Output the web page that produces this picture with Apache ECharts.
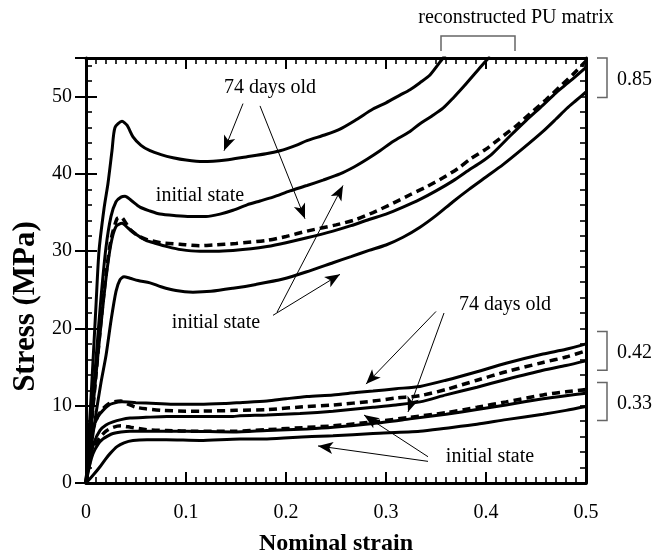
<!DOCTYPE html>
<html>
<head>
<meta charset="utf-8">
<script src="https://cdn.jsdelivr.net/npm/echarts@6/dist/echarts.min.js"></script>
<style>
  html, body { margin: 0; padding: 0; background: #fff; }
  #chart { width: 672px; height: 556px; }
</style>
</head>
<body>
<div id="chart"></div>
<script>
// Stress–strain curves of PU matrices, [nominal strain, stress in MPa]
const agedHigh = [[0,0],[0.005,11],[0.01,23],[0.013,30],[0.018,35.5],[0.022,38.8],[0.026,43],[0.029,46],[0.036,46.8],[0.041,46.3],[0.047,44.8],[0.055,43.7],[0.064,43.0],[0.075,42.5],[0.087,42.1],[0.1,41.8],[0.117,41.6],[0.14,41.8],[0.16,42.2],[0.18,42.6],[0.194,43.0],[0.21,43.7],[0.221,44.3],[0.24,45.1],[0.254,45.8],[0.27,47.0],[0.287,48.4],[0.3,49.2],[0.314,50.2],[0.324,50.9],[0.334,51.8],[0.344,52.8],[0.357,55.0],[0.36,55.5]];
const initHigh = [[0,0],[0.005,8],[0.01,16],[0.015,24],[0.02,30.5],[0.025,34.5],[0.03,36.4],[0.035,37.0],[0.039,37.1],[0.045,36.6],[0.054,35.7],[0.064,35.2],[0.074,34.8],[0.09,34.6],[0.104,34.5],[0.12,34.5],[0.134,34.8],[0.147,35.3],[0.161,36.0],[0.174,36.5],[0.187,37.0],[0.204,37.8],[0.221,38.5],[0.237,39.2],[0.254,40.0],[0.268,40.9],[0.281,41.9],[0.294,43.0],[0.307,44.2],[0.324,45.5],[0.334,46.5],[0.346,47.5],[0.357,48.5],[0.367,49.8],[0.377,51.2],[0.387,52.7],[0.397,54.2],[0.404,55.2]];
const agedHighDash = [[0,0],[0.005,7],[0.01,14],[0.015,21],[0.02,27],[0.025,31.5],[0.031,34.2],[0.035,34.4],[0.04,33.6],[0.044,32.8],[0.052,32.0],[0.061,31.5],[0.075,31.1],[0.094,30.9],[0.114,30.7],[0.127,30.8],[0.15,31.0],[0.181,31.4],[0.2,31.9],[0.221,32.6],[0.25,33.4],[0.27,34.1],[0.287,35.0],[0.307,36.2],[0.324,37.3],[0.34,38.3],[0.357,39.5],[0.372,40.7],[0.384,41.9],[0.4,43.2],[0.414,44.6],[0.43,46.2],[0.444,47.8],[0.46,49.6],[0.474,51.3],[0.487,52.9],[0.5,54.6]];
const initHighMid = [[0,0],[0.005,7],[0.01,14],[0.015,20.5],[0.02,26.5],[0.025,31],[0.03,33.2],[0.036,33.6],[0.042,33.0],[0.05,32.2],[0.06,31.4],[0.07,31.0],[0.081,30.6],[0.095,30.2],[0.114,30.0],[0.13,30.0],[0.147,30.1],[0.165,30.3],[0.181,30.6],[0.2,31.1],[0.22,31.7],[0.247,32.6],[0.265,33.3],[0.283,34.1],[0.3,34.8],[0.317,35.7],[0.334,36.7],[0.35,37.8],[0.367,39.1],[0.383,40.5],[0.395,41.5],[0.407,42.7],[0.424,44.9],[0.44,46.9],[0.457,48.9],[0.47,50.5],[0.484,52.0],[0.5,53.8]];
const initHighLow = [[0,0],[0.005,4.5],[0.01,9],[0.015,13],[0.02,16.5],[0.025,21],[0.03,24.8],[0.034,26.3],[0.038,26.7],[0.044,26.5],[0.052,26.2],[0.064,25.9],[0.075,25.4],[0.09,24.9],[0.107,24.7],[0.125,24.8],[0.147,25.2],[0.17,25.7],[0.197,26.4],[0.22,27.3],[0.247,28.5],[0.265,29.3],[0.283,30.1],[0.3,30.8],[0.317,31.8],[0.334,33.1],[0.35,34.6],[0.367,36.4],[0.383,38.0],[0.4,39.6],[0.417,41.2],[0.437,43.3],[0.457,45.5],[0.47,47.1],[0.481,48.5],[0.49,49.5],[0.5,50.6]];

const agedMid = [[0,0],[0.003,3.5],[0.007,7.0],[0.012,8.6],[0.017,9.4],[0.022,10.0],[0.027,10.3],[0.036,10.5],[0.05,10.4],[0.07,10.3],[0.09,10.2],[0.114,10.2],[0.14,10.3],[0.154,10.4],[0.181,10.6],[0.2,10.9],[0.221,11.2],[0.247,11.4],[0.27,11.7],[0.287,11.9],[0.31,12.2],[0.334,12.5],[0.36,13.3],[0.391,14.4],[0.42,15.5],[0.457,16.7],[0.48,17.3],[0.5,18.0]];
const agedMidDash = [[0,0],[0.003,3.5],[0.007,6.9],[0.012,8.7],[0.017,9.6],[0.022,10.2],[0.028,10.5],[0.035,10.6],[0.042,10.2],[0.05,9.8],[0.06,9.6],[0.077,9.4],[0.1,9.3],[0.114,9.3],[0.15,9.4],[0.181,9.5],[0.221,9.9],[0.247,10.1],[0.287,10.6],[0.31,11.0],[0.334,11.3],[0.36,12.1],[0.391,13.3],[0.42,14.4],[0.457,15.6],[0.48,16.3],[0.5,17.1]];
const initMid = [[0,0],[0.004,3],[0.008,5.2],[0.014,6.8],[0.02,7.5],[0.027,7.9],[0.035,8.2],[0.044,8.4],[0.06,8.5],[0.081,8.6],[0.11,8.6],[0.147,8.6],[0.154,8.7],[0.181,8.8],[0.214,9.0],[0.247,9.3],[0.287,9.8],[0.31,10.1],[0.334,10.5],[0.36,11.4],[0.391,12.4],[0.42,13.4],[0.457,14.6],[0.48,15.2],[0.5,15.8]];
const agedLowDash = [[0,0],[0.004,2.8],[0.008,4.6],[0.014,5.9],[0.02,6.7],[0.027,7.2],[0.035,7.4],[0.045,7.2],[0.061,6.9],[0.081,6.8],[0.11,6.7],[0.147,6.7],[0.181,6.9],[0.221,7.2],[0.247,7.4],[0.287,7.9],[0.324,8.5],[0.36,9.1],[0.391,9.8],[0.42,10.5],[0.457,11.4],[0.48,11.8],[0.5,12.1]];
const agedLow = [[0,0],[0.004,2.5],[0.007,3.8],[0.012,5.0],[0.017,5.7],[0.022,6.1],[0.027,6.4],[0.035,6.6],[0.044,6.7],[0.06,6.7],[0.1,6.7],[0.147,6.6],[0.181,6.8],[0.221,7.0],[0.247,7.2],[0.287,7.7],[0.324,8.3],[0.36,8.9],[0.391,9.5],[0.42,10.1],[0.457,10.9],[0.48,11.3],[0.5,11.6]];
const initLow = [[0,0],[0.007,1.0],[0.014,2.1],[0.019,3.0],[0.024,3.8],[0.031,4.7],[0.038,5.2],[0.047,5.5],[0.061,5.6],[0.08,5.6],[0.114,5.5],[0.154,5.7],[0.181,5.7],[0.221,6.0],[0.247,6.1],[0.287,6.4],[0.334,6.7],[0.36,7.1],[0.391,7.6],[0.42,8.2],[0.457,8.9],[0.48,9.4],[0.5,9.9]];

const solidCurves = [agedHigh, initHigh, initHighMid, initHighLow, agedMid, initMid, agedLow, initLow];
const dashedCurves = [agedHighDash, agedMidDash, agedLowDash];

// Axis ranges and tick spacing
const xMin = 0, xMax = 0.5, xMajor = 0.1, xMinorSplit = 10;
const yMin = 0, yMax = 55, yMajor = 10, yMinor = 2;

// Annotation texts [text, strain, stress]
const notes = [
  ['74 days old', 0.184, 51.2],
  ['initial state', 0.114, 37.2],
  ['initial state', 0.130, 20.7],
  ['74 days old', 0.419, 23.1],
  ['initial state', 0.404, 3.4]
];
// Arrows [fromStrain, fromStress, toStrain, toStress]
const arrows = [
  [0.157, 49.1, 0.138, 43.0],
  [0.174, 48.8, 0.219, 34.2],
  [0.187, 21.7, 0.254, 27.0],
  [0.191, 22.1, 0.257, 38.5],
  [0.350, 22.2, 0.280, 12.8],
  [0.358, 22.0, 0.322, 9.2],
  [0.342, 3.4, 0.278, 8.8],
  [0.342, 2.8, 0.232, 4.8]
];
// Ratio brackets on the right side [label, lowStress, highStress]
const ratioBrackets = [
  ['0.85', 49.9, 55],
  ['0.42', 14.6, 19.6],
  ['0.33', 8.1, 13.0]
];
const matrixLabel = 'reconstructed PU matrix';
const matrixSpan = [0.355, 0.429];

const FONT = '"Liberation Serif", "Times New Roman", serif';
const isMult = (v, step) => Math.abs(v / step - Math.round(v / step)) < 1e-6;

const chart = echarts.init(document.getElementById('chart'), null, { renderer: 'canvas' });

const frame = { show: true, onZero: false, lineStyle: { color: '#000', width: 3 } };
const baseX = {
  type: 'value', min: xMin, max: xMax, interval: xMajor,
  splitLine: { show: false },
  axisTick: { show: true, inside: true, length: 11, lineStyle: { color: '#000', width: 2 } },
  minorTick: { show: true, splitNumber: xMinorSplit, length: 6, lineStyle: { color: '#000', width: 1.6 } }
};

const option = {
  animation: false,
  backgroundColor: '#fff',
  grid: { left: 86, right: 86, top: 58, bottom: 73, containLabel: false, outerBoundsMode: 'none' },
  xAxis: [
    Object.assign({}, baseX, {
      position: 'bottom', axisLine: frame,
      axisLabel: { show: true, margin: 20, color: '#000', fontFamily: FONT, fontSize: 20,
        formatter: v => isMult(v, xMajor) ? String(+v.toFixed(1)) : '' },
      name: 'Nominal strain', nameLocation: 'middle', nameGap: 49,
      nameTextStyle: { color: '#000', fontFamily: FONT, fontSize: 24, fontWeight: 'bold' }
    }),
    Object.assign({}, baseX, { position: 'top', axisLine: frame, axisLabel: { show: false } })
  ],
  yAxis: [
    { type: 'value', min: yMin, max: yMax, interval: yMinor, position: 'left',
      axisLine: frame, splitLine: { show: false },
      axisTick: { show: true, inside: true, length: 6, lineStyle: { color: '#000', width: 1.6 } },
      axisLabel: { show: true, margin: 14, color: '#000', fontFamily: FONT, fontSize: 20,
        showMaxLabel: false,
        formatter: v => (isMult(v, yMajor) && v <= 50) ? String(v) : '' },
      name: 'Stress (MPa)', nameLocation: 'middle', nameGap: 36, nameRotate: 90,
      nameTextStyle: { color: '#000', fontFamily: FONT, fontSize: 31, fontWeight: 'bold',
        padding: [0, 72, 0, 0] }
    },
    { type: 'value', min: yMin, max: yMax, interval: yMajor, position: 'left',
      axisLine: { show: false }, splitLine: { show: false }, axisLabel: { show: false },
      axisTick: { show: true, inside: true, length: 11, lineStyle: { color: '#000', width: 2 } } },
    { type: 'value', min: yMin, max: yMax, interval: yMinor, position: 'right',
      axisLine: frame, splitLine: { show: false }, axisLabel: { show: false },
      axisTick: { show: true, inside: true, length: 6, lineStyle: { color: '#000', width: 1.6 } } },
    { type: 'value', min: yMin, max: yMax, interval: yMajor, position: 'right',
      axisLine: { show: false }, splitLine: { show: false }, axisLabel: { show: false },
      axisTick: { show: true, inside: true, length: 11, lineStyle: { color: '#000', width: 2 } } }
  ],
  series: []
};

solidCurves.forEach(d => option.series.push({
  type: 'line', data: d, showSymbol: false, smooth: 0.25, clip: true, silent: true,
  lineStyle: { color: '#000', width: 3 }
}));
dashedCurves.forEach(d => option.series.push({
  type: 'line', data: d, showSymbol: false, smooth: 0.25, clip: true, silent: true,
  lineStyle: { color: '#000', width: 3.5, type: [8, 5] }
}));

// Annotation layer: arrows and labels placed in data coordinates
option.series.push({
  type: 'line', data: [], silent: true, showSymbol: false,
  markLine: {
    silent: true, animation: false,
    symbol: ['none', 'arrow'], symbolSize: [9, 15],
    label: { show: false },
    lineStyle: { color: '#000', width: 1, type: 'solid' },
    emphasis: { disabled: true },
    data: arrows.map(a => [{ coord: [a[0], a[1]] }, { coord: [a[2], a[3]] }])
  },
  markPoint: {
    silent: true, animation: false,
    symbol: 'circle', symbolSize: 0,
    itemStyle: { color: 'transparent' },
    label: { show: true, position: 'inside', color: '#000', fontFamily: FONT, fontSize: 20,
      formatter: p => p.name },
    data: notes.map(n => ({ name: n[0], coord: [n[1], n[2]] }))
  }
});

chart.setOption(option);

// Brackets outside the plotting area, positioned from the axis scales
const px = (x, y) => chart.convertToPixel({ gridIndex: 0 }, [x, y]);
const rightEdge = px(xMax, 0)[0];
const topEdge = px(0, yMax)[1];
const graphics = [];
ratioBrackets.forEach(b => {
  const yHi = px(xMax, b[2])[1];
  const yLo = px(xMax, b[1])[1];
  graphics.push({
    type: 'polyline', silent: true,
    shape: { points: [[rightEdge + 11, yHi], [rightEdge + 21, yHi], [rightEdge + 21, yLo], [rightEdge + 11, yLo]] },
    style: { stroke: '#666', lineWidth: 1.5, fill: null }
  });
  graphics.push({
    type: 'text', silent: true, x: rightEdge + 31, y: (yHi + yLo) / 2 + 2,
    style: { text: b[0], fill: '#000', font: '20px ' + FONT, textAlign: 'left', textVerticalAlign: 'middle' }
  });
});
const m1 = px(matrixSpan[0], yMax)[0];
const m2 = px(matrixSpan[1], yMax)[0];
graphics.push({
  type: 'polyline', silent: true,
  shape: { points: [[m1, topEdge - 7], [m1, topEdge - 22], [m2, topEdge - 22], [m2, topEdge - 7]] },
  style: { stroke: '#666', lineWidth: 1.5, fill: null }
});
graphics.push({
  type: 'text', silent: true, x: 516, y: topEdge - 40,
  style: { text: matrixLabel, fill: '#000', font: '20px ' + FONT, textAlign: 'center', textVerticalAlign: 'middle' }
});
chart.setOption({ graphic: graphics });
</script>
</body>
</html>
